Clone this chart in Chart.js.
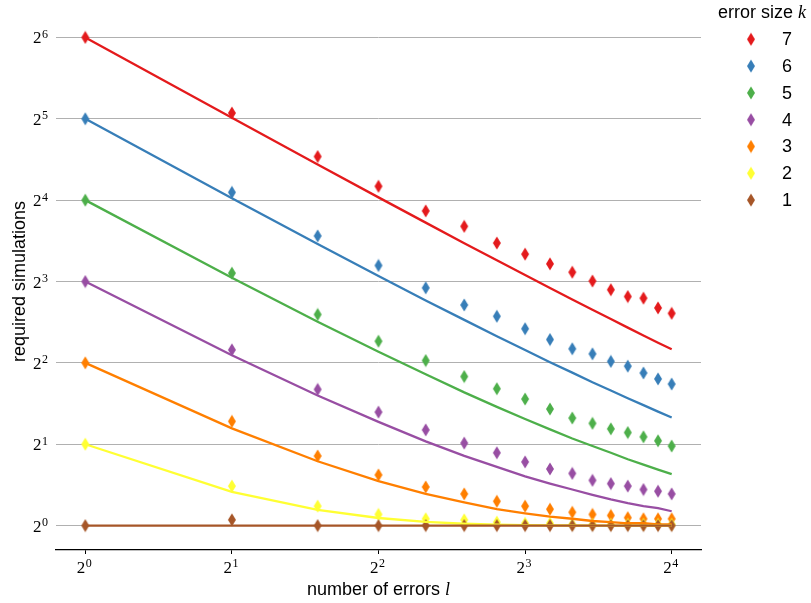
<!DOCTYPE html>
<html>
<head>
<meta charset="utf-8">
<script src="https://cdn.jsdelivr.net/npm/chart.js@4.4.1/dist/chart.umd.min.js"></script>
<style>
  html, body { margin: 0; padding: 0; background: #fff; }
  #wrap { width: 811px; height: 603px; }
</style>
</head>
<body>
<div id="wrap"><canvas id="c" width="811" height="603"></canvas></div>
<script>
// number of errors l
const lValues = [1, 2, 3, 4, 5, 6, 7, 8, 9, 10, 11, 12, 13, 14, 15, 16];
// error sizes k (legend order)
const kLabels = ['7', '6', '5', '4', '3', '2', '1'];
const seriesColors = ['#e41a1c', '#377eb8', '#4daf4a', '#984ea3', '#ff7f00', '#ffff33', '#a65628'];

// simulated required simulations (markers)
const sim7 = [64, 33.6, 23.2, 18.0, 14.6, 12.8, 11.1, 10.1, 9.3, 8.66, 8.03, 7.46, 7.04, 6.94, 6.39, 6.1];
const sim6 = [32, 17.1, 11.8, 9.17, 7.58, 6.55, 5.95, 5.35, 4.88, 4.51, 4.32, 4.05, 3.89, 3.67, 3.49, 3.34];
const sim5 = [16, 8.59, 6.04, 4.81, 4.08, 3.56, 3.21, 2.94, 2.70, 2.50, 2.39, 2.28, 2.21, 2.13, 2.06, 1.97];
const sim4 = [8, 4.47, 3.19, 2.63, 2.26, 2.02, 1.86, 1.72, 1.62, 1.56, 1.47, 1.43, 1.40, 1.36, 1.34, 1.31];
const sim3 = [4, 2.43, 1.81, 1.54, 1.39, 1.31, 1.23, 1.18, 1.15, 1.12, 1.10, 1.09, 1.07, 1.06, 1.06, 1.06];
const sim2 = [2, 1.40, 1.18, 1.10, 1.06, 1.05, 1.03, 1.02, 1.02, 1.01, 1.01, 1.01, 1.01, 1.01, 1.01, 1.01];
const sim1 = [1, 1.05, 1, 1, 1, 1, 1, 1, 1, 1, 1, 1, 1, 1, 1, 1];

// expected values (lines)
const theory7 = [64, 32.25, 21.67, 16.38, 13.21, 11.09, 9.58, 8.45, 7.57, 6.86, 6.29, 5.81, 5.40, 5.05, 4.75, 4.49];
const theory6 = [32, 16.25, 11.01, 8.38, 6.81, 5.77, 5.02, 4.46, 4.02, 3.68, 3.39, 3.16, 2.96, 2.79, 2.64, 2.51];
const theory5 = [16, 8.26, 5.68, 4.40, 3.63, 3.11, 2.75, 2.48, 2.27, 2.10, 1.97, 1.86, 1.76, 1.68, 1.61, 1.55];
const theory4 = [8, 4.27, 3.03, 2.42, 2.05, 1.81, 1.65, 1.52, 1.43, 1.36, 1.30, 1.25, 1.21, 1.18, 1.16, 1.13];
const theory3 = [4, 2.29, 1.73, 1.46, 1.31, 1.22, 1.15, 1.11, 1.08, 1.06, 1.04, 1.03, 1.02, 1.02, 1.01, 1.01];
const theory2 = [2, 1.333, 1.143, 1.067, 1.032, 1.016, 1.008, 1.004, 1.002, 1.001, 1.0005, 1.0002, 1.0001, 1, 1, 1];
const theory1 = [1, 1, 1, 1, 1, 1, 1, 1, 1, 1, 1, 1, 1, 1, 1, 1];

// tick values
const xTicks = [1, 2, 4, 8, 16];
const yTicks = [1, 2, 4, 8, 16, 32, 64];

const simSeries = [sim7, sim6, sim5, sim4, sim3, sim2, sim1];
const theorySeries = [theory7, theory6, theory5, theory4, theory3, theory2, theory1];

function diamond(color) {
  const c = document.createElement('canvas');
  c.width = 10; c.height = 14;
  const g = c.getContext('2d');
  g.fillStyle = color;
  g.beginPath();
  g.moveTo(5, 0.5); g.lineTo(9, 7); g.lineTo(5, 13.5); g.lineTo(1, 7);
  g.closePath(); g.fill();
  return c;
}
const markers = seriesColors.map(diamond);

const toPts = arr => arr.map((v, i) => ({ x: lValues[i], y: v }));

const datasets = [];
kLabels.forEach((k, i) => {
  const kn = Number(k);
  datasets.push({
    label: 'theory ' + k, kind: 'line',
    data: toPts(theorySeries[i]),
    showLine: true, borderColor: seriesColors[i], backgroundColor: seriesColors[i],
    borderWidth: 2.3, pointRadius: 0, pointHoverRadius: 0, tension: 0,
    order: kn
  });
  datasets.push({
    label: k, kind: 'marker', markerIndex: i,
    data: toPts(simSeries[i]),
    showLine: false, pointStyle: markers[i], pointRadius: 6,
    backgroundColor: seriesColors[i], borderColor: seriesColors[i],
    order: 10 + kn
  });
});

const SERIF = '"Liberation Serif", "DejaVu Serif", serif';
const SANS = '"Liberation Sans", Arial, sans-serif';

function drawPow(ctx, x, baseline, exp, align) {
  ctx.font = '17px ' + SERIF;
  const w1 = ctx.measureText('2').width;
  ctx.font = '12px ' + SERIF;
  const s = String(exp);
  const w2 = ctx.measureText(s).width;
  const total = w1 + 0.5 + w2;
  let start = align === 'right' ? x - total : x - total / 2;
  ctx.textAlign = 'left';
  ctx.textBaseline = 'alphabetic';
  ctx.font = '17px ' + SERIF;
  ctx.fillText('2', start, baseline);
  ctx.font = '12px ' + SERIF;
  ctx.fillText(s, start + w1 + 0.5, baseline - 5.5);
}

const overlay = {
  id: 'overlay',
  afterDraw(chart) {
    const ctx = chart.ctx;
    const xs = chart.scales.x, ys = chart.scales.y, ca = chart.chartArea;
    ctx.save();
    ctx.fillStyle = '#000';
    // y tick labels
    ys.ticks.forEach(t => {
      const py = ys.getPixelForValue(t.value);
      drawPow(ctx, 48, py + 6, Math.round(Math.log2(t.value)), 'right');
    });
    // x tick labels
    xs.ticks.forEach(t => {
      const px = xs.getPixelForValue(t.value);
      drawPow(ctx, px - 1, ca.bottom + 22.5, Math.round(Math.log2(t.value)), 'center');
    });
    // x title
    ctx.textBaseline = 'alphabetic';
    ctx.textAlign = 'left';
    ctx.font = '18px ' + SANS;
    const t1 = 'number of errors ';
    const w1 = ctx.measureText(t1).width;
    ctx.font = 'italic 18px ' + SERIF;
    const w2 = ctx.measureText('l').width;
    const cx = (ca.left + ca.right) / 2;
    let sx = cx - (w1 + w2) / 2;
    ctx.font = '18px ' + SANS;
    ctx.fillText(t1, sx, 595);
    ctx.font = 'italic 18px ' + SERIF;
    ctx.fillText('l', sx + w1, 595);
    // y title
    ctx.save();
    ctx.translate(25, (ca.top + ca.bottom) / 2);
    ctx.rotate(-Math.PI / 2);
    ctx.textAlign = 'center';
    ctx.font = '18px ' + SANS;
    ctx.fillText('required simulations', 0, 0);
    ctx.restore();
    // legend title
    ctx.textAlign = 'left';
    ctx.font = '18px ' + SANS;
    const lt = 'error size ';
    ctx.fillText(lt, 718, 17.5);
    const lw = ctx.measureText(lt).width;
    ctx.font = 'italic 18px ' + SERIF;
    ctx.fillText('k', 718 + lw, 17.5);
    // legend entries
    ctx.font = '18px ' + SANS;
    ctx.textBaseline = 'middle';
    const entries = chart.data.datasets.filter(d => d.kind === 'marker');
    entries.forEach((d, i) => {
      const y = 39.3 + i * 26.8;
      const m = markers[d.markerIndex];
      ctx.drawImage(m, 751 - m.width / 2, y - m.height / 2);
      ctx.fillStyle = '#000';
      ctx.fillText(d.label, 782, y + 1);
    });
    ctx.restore();
  }
};

new Chart(document.getElementById('c'), {
  type: 'scatter',
  data: { datasets },
  options: {
    responsive: false,
    animation: false,
    devicePixelRatio: 1,
    layout: { padding: { left: 0, right: 110, top: 13, bottom: 0 } },
    plugins: { legend: { display: false }, tooltip: { enabled: false } },
    scales: {
      x: {
        type: 'logarithmic',
        min: 0.8706, max: 18.379,
        afterBuildTicks: s => { s.ticks = xTicks.map(v => ({ value: v })); },
        afterFit: s => { s.height = 53; },
        ticks: { display: false },
        grid: { drawOnChartArea: false, drawTicks: true, tickLength: 4, color: '#000', lineWidth: 1 },
        border: { display: true, color: '#000', width: 1.3 }
      },
      y: {
        type: 'logarithmic',
        min: 0.8123, max: 78.79,
        afterBuildTicks: s => { s.ticks = yTicks.map(v => ({ value: v })); },
        afterFit: s => { s.width = 56; },
        ticks: { display: false },
        grid: { drawTicks: false, color: '#b0b0b0', lineWidth: 1 },
        border: { display: false }
      }
    }
  },
  plugins: [overlay]
});
</script>
</body>
</html>
